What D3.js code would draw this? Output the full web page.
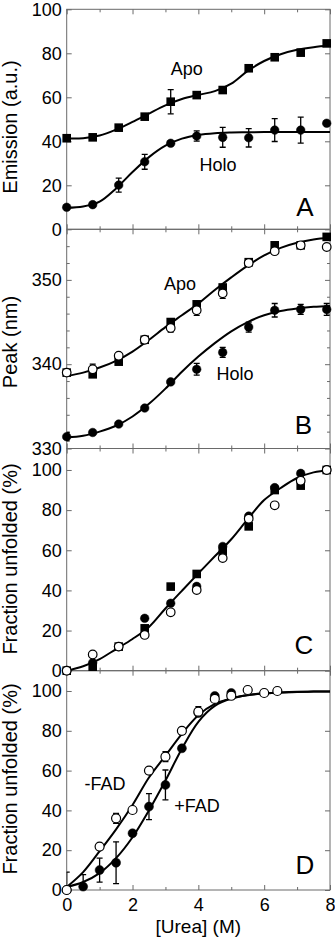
<!DOCTYPE html>
<html><head><meta charset="utf-8">
<script src="https://cdn.jsdelivr.net/npm/d3@7"></script>
<style>
body{margin:0;background:#fff}
svg{display:block}
text{font-family:"Liberation Sans",Arial,Helvetica,sans-serif;fill:#000}
</style>
</head><body>
<svg id="chart" width="335" height="937"></svg>
<script>
// ---------- data ----------
const urea = [0, 0.79, 1.58, 2.37, 3.16, 3.95, 4.74, 5.53, 6.32, 7.11, 7.9];
const fitX = [0, 0.5, 1, 1.5, 2, 2.5, 3, 3.5, 4, 4.5, 5, 5.5, 6, 6.5, 7, 7.5, 8];

// Panel A: emission (a.u.)
const apoEmission    = [41.4, 41.8, 46.2, 51.2, 58.0, 61.0, 63.3, 73.2, 78.2, 80.3, 84.5];
const apoEmissionErr = [0, 0, 0, 0, 5.5, 0, 1.5, 0, 0, 0, 0];
const holoEmission    = [10.0, 11.2, 20.1, 30.7, 39.1, 42.4, 41.8, 41.6, 45.1, 45.1, 48.2];
const holoEmissionErr = [0, 0, 3.2, 3.4, 0, 2.3, 4.5, 4.2, 5.2, 5.9, 0];
const apoEmissionFit  = [41.3, 41.4, 42.6, 45.3, 48.8, 52.6, 56.3, 59.2, 61.1, 62.8, 66.2, 72.0, 76.5, 79.6, 81.6, 82.8, 83.5];
const holoEmissionFit = [9.8, 10.4, 12.6, 18.6, 26.0, 32.8, 38.0, 41.2, 42.9, 43.7, 44.0, 44.1, 44.2, 44.2, 44.2, 44.2, 44.2];

// Panel B: peak (nm)
const apoPeakSquare = [339.0, 338.8, 340.3, 342.9, 345.0, 347.1, 349.1, 352.1, 354.1, 354.1, 355.1];
const apoPeakOpen   = [339.0, 339.4, 341.0, 342.9, 344.3, 346.4, 348.4, 352.0, 353.4, 354.1, 353.9];
const apoPeakErr    = [0, 0.6, 0, 0, 0.5, 0.6, 0.6, 0, 0, 0, 0];
const holoPeak      = [331.4, 331.9, 332.9, 334.8, 337.9, 339.4, 341.4, 344.4, 346.4, 346.5, 346.5];
const holoPeakErr   = [0.5, 0, 0, 0, 0, 0.7, 0.6, 0.6, 0.8, 0.6, 0.7];
const apoPeakFit  = [338.6, 339.0, 339.6, 340.4, 341.5, 342.9, 344.4, 345.8, 347.2, 348.8, 350.3, 351.7, 352.9, 353.8, 354.4, 354.8, 355.0];
const holoPeakFit = [331.3, 331.5, 332.0, 332.7, 333.8, 335.3, 337.1, 339.1, 340.9, 342.5, 343.9, 345.0, 345.8, 346.3, 346.6, 346.8, 346.9];

// Panel C: fraction unfolded (%)
const unfoldSquare = [0, 2, 12, 21.1, 41.9, 48.2, 59.4, 71.9, 90, 92.2, 100];
const unfoldFilled = [0, 4, 12, 26.1, 33.6, 42, 61.9, 77, 91.2, 98.3, 100];
const unfoldOpen   = [0, 8.1, 12, 17.8, 29.1, 40.2, 56.1, 75.7, 82.4, 94.6, 100];
const unfoldFit    = [0, 2.2, 5.8, 10.8, 15.8, 21.8, 31.0, 39.8, 48.5, 57.0, 65.5, 75.5, 85.0, 91.0, 96.0, 98.8, 100];

// Panel D: fraction unfolded (%) -FAD / +FAD
const noFadUrea = [0, 1, 1.5, 2, 2.5, 3, 3.5, 4, 4.5, 5, 5.5, 6, 6.4];
const noFadVal  = [0, 21.8, 36, 40.2, 60, 67, 80, 89.6, 96, 97.6, 100.5, 99, 100];
const noFadErr  = [9, 0, 2.5, 0, 0, 2.5, 0, 2.5, 0, 0, 0, 0, 0];
const fadUrea = [0, 0.5, 1, 1.5, 2, 2.5, 3, 3.5, 4, 4.5, 5];
const fadVal  = [0, 1.7, 10, 13.7, 28.5, 41.9, 52.8, 71.2, 89, 97.5, 99];
const fadErr  = [0, 6, 6, 10.5, 0, 6.5, 7.5, 0, 0, 0, 0];
const noFadFit = [1.5, 9, 19.5, 30.5, 42.7, 56.5, 67.5, 78.5, 87.8, 93.5, 96.3, 98.0, 98.8, 99.3, 99.6, 99.7, 99.8];
const fadFit   = [1.5, 4, 8.5, 16, 26.5, 40, 55, 71, 84.5, 92.5, 96.2, 97.9, 98.7, 99.2, 99.5, 99.7, 99.8];

// tick labels
const xTickLabels = [0, 2, 4, 6, 8];
const yLabelsA = [0, 20, 40, 60, 80, 100];
const yLabelsB = [330, 340, 350];
const yLabelsC = [0, 20, 40, 60, 80, 100];
const yLabelsD = [0, 20, 40, 60, 80, 100];

// ---------- drawing ----------
const svg = d3.select("#chart");
const x = d3.scaleLinear().domain([0, 8]).range([66.7, 330]);
const frameColor = "#6a6a6a";
const tickFont = 18, titleFont = 20;

const panels = [
  {id:"A", top:9.3,   bottom:229.3, domain:[0,100],   labels:yLabelsA, minor:null, title:"Emission (a.u.)", titleY:127},
  {id:"B", top:229.3, bottom:448.5, domain:[330,356], labels:yLabelsB, minor:d3.range(332,356,2), title:"Peak (nm)", titleY:342},
  {id:"C", top:448.5, bottom:670.7, domain:[0,110.7], labels:yLabelsC, minor:null, title:"Fraction unfolded (%)", titleY:559},
  {id:"D", top:670.7, bottom:890,   domain:[0,110.2], labels:yLabelsD, minor:null, title:"Fraction unfolded (%)", titleY:779}
];
panels.forEach(p => { p.y = d3.scaleLinear().domain(p.domain).range([p.bottom, p.top]); });

const defs = svg.append("defs");
panels.forEach(p => {
  defs.append("clipPath").attr("id","clip"+p.id).append("rect")
    .attr("x", x(0)).attr("y", p.top).attr("width", x(8)-x(0)).attr("height", p.bottom-p.top);
});

function styleAxis(g){
  g.select(".domain").remove();
  g.selectAll(".tick line").attr("stroke", frameColor).attr("stroke-width", 1);
  g.selectAll(".tick text").attr("font-size", tickFont).attr("font-family", '"Liberation Sans",Arial,sans-serif').attr("fill","#000");
}

const evenX = d3.range(0, 9, 2), oddX = d3.range(1, 9, 2);

panels.forEach(p => {
  const g = svg.append("g");
  g.append("rect").attr("x", x(0)).attr("y", p.top).attr("width", x(8)-x(0)).attr("height", p.bottom-p.top)
    .attr("fill","none").attr("stroke", frameColor).attr("stroke-width", 1);
  g.append("g").attr("transform",`translate(0,${p.bottom})`)
    .call(d3.axisBottom(x).tickValues(p.id === "D" ? xTickLabels : evenX).tickSizeInner(-5).tickSizeOuter(0).tickPadding(8)
      .tickFormat(p.id === "D" ? d3.format("d") : ""))
    .call(styleAxis);
  g.append("g").attr("transform",`translate(0,${p.bottom})`)
    .call(d3.axisBottom(x).tickValues(oddX).tickSizeInner(-3).tickSizeOuter(0).tickFormat(""))
    .call(styleAxis);
  g.append("g").attr("transform",`translate(0,${p.top})`)
    .call(d3.axisTop(x).tickValues(evenX).tickSizeInner(-5).tickSizeOuter(0).tickFormat(""))
    .call(styleAxis);
  g.append("g").attr("transform",`translate(0,${p.top})`)
    .call(d3.axisTop(x).tickValues(oddX).tickSizeInner(-3).tickSizeOuter(0).tickFormat(""))
    .call(styleAxis);
  g.append("g").attr("transform",`translate(${x(0)},0)`)
    .call(d3.axisLeft(p.y).tickValues(p.labels).tickSizeInner(-5).tickSizeOuter(0).tickPadding(5).tickFormat(d3.format("d")))
    .call(styleAxis);
  g.append("g").attr("transform",`translate(${x(8)},0)`)
    .call(d3.axisRight(p.y).tickValues(p.labels).tickSizeInner(-5).tickSizeOuter(0).tickFormat(""))
    .call(styleAxis);
  if (p.minor) {
    const minorVals = p.minor.filter(v => !p.labels.includes(v));
    g.append("g").attr("transform",`translate(${x(0)},0)`)
      .call(d3.axisLeft(p.y).tickValues(minorVals).tickSizeInner(-3).tickSizeOuter(0).tickFormat(""))
      .call(styleAxis);
    g.append("g").attr("transform",`translate(${x(8)},0)`)
      .call(d3.axisRight(p.y).tickValues(minorVals).tickSizeInner(-3).tickSizeOuter(0).tickFormat(""))
      .call(styleAxis);
  }
  svg.append("text").attr("transform",`translate(16.5,${p.titleY}) rotate(-90)`)
    .attr("text-anchor","middle").attr("font-size",titleFont).text(p.title);
});

function fitLine(p, ys){
  const line = d3.line().x((d,i)=>x(fitX[i])).y(d=>p.y(d)).curve(d3.curveCatmullRom.alpha(0.5));
  svg.append("path").datum(ys).attr("d", line).attr("fill","none").attr("stroke","#000").attr("stroke-width",2);
}
function errBars(p, xs, ys, es){
  const g = svg.append("g").attr("clip-path", `url(#clip${p.id})`);
  xs.forEach((xv,i) => {
    const e = es[i]; if (!e) return;
    const cx = x(xv), y1 = p.y(ys[i]-e), y2 = p.y(ys[i]+e);
    g.append("line").attr("x1",cx).attr("x2",cx).attr("y1",y1).attr("y2",y2).attr("stroke","#000").attr("stroke-width",1.3);
    [y1,y2].forEach(yy => g.append("line").attr("x1",cx-3).attr("x2",cx+3).attr("y1",yy).attr("y2",yy).attr("stroke","#000").attr("stroke-width",1.3));
  });
}
function squares(p, xs, ys, s=8.6){
  svg.append("g").selectAll("rect").data(ys).join("rect")
    .attr("x",(d,i)=>x(xs[i])-s/2).attr("y",d=>p.y(d)-s/2).attr("width",s).attr("height",s).attr("fill","#000");
}
function dots(p, xs, ys, open, r=4.3){
  svg.append("g").selectAll("circle").data(ys).join("circle")
    .attr("cx",(d,i)=>x(xs[i])).attr("cy",d=>p.y(d)).attr("r",r)
    .attr("fill", open ? "#fff" : "#000").attr("stroke","#000").attr("stroke-width", open ? 1.2 : 0.5);
}
function label(txt, cx, base, size){
  svg.append("text").attr("x",cx).attr("y",base).attr("text-anchor","middle").attr("font-size",size).text(txt);
}

const [pA, pB, pC, pD] = panels;

fitLine(pA, apoEmissionFit);
fitLine(pA, holoEmissionFit);
errBars(pA, urea, apoEmission, apoEmissionErr);
errBars(pA, urea, holoEmission, holoEmissionErr);
squares(pA, urea, apoEmission);
dots(pA, urea, holoEmission, false);
label("Apo", 186.7, 74.8, 18);
label("Holo", 218, 170.8, 18);
label("A", 305, 216, 26);

fitLine(pB, apoPeakFit);
fitLine(pB, holoPeakFit);
errBars(pB, urea, apoPeakOpen, apoPeakErr);
errBars(pB, urea, holoPeak, holoPeakErr);
squares(pB, urea, apoPeakSquare);
dots(pB, urea, apoPeakOpen, true);
dots(pB, urea, holoPeak, false);
label("Apo", 180, 289.8, 18);
label("Holo", 235, 379.8, 18);
label("B", 303.3, 434.3, 26);

fitLine(pC, unfoldFit);
squares(pC, urea, unfoldSquare);
dots(pC, urea, unfoldFilled, false);
dots(pC, urea, unfoldOpen, true);
label("C", 304, 654.3, 26);

fitLine(pD, noFadFit);
fitLine(pD, fadFit);
errBars(pD, fadUrea, fadVal, fadErr);
errBars(pD, noFadUrea, noFadVal, noFadErr);
dots(pD, fadUrea, fadVal, false, 4.5);
dots(pD, noFadUrea, noFadVal, true, 4.5);
label("-FAD", 105, 789.5, 18);
label("+FAD", 197, 812, 18);
label("D", 305, 874, 26);

label("[Urea] (M)", 198.3, 933, 19);
</script>
</body></html>
